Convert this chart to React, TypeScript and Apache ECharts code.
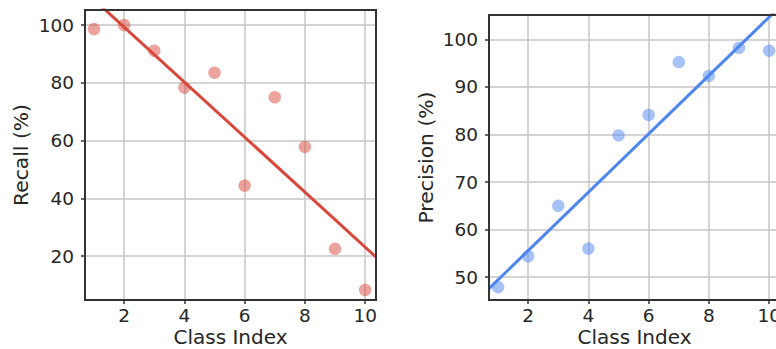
import React, { useEffect, useRef } from "react";
import * as echarts from "echarts";

const classIndex = [1, 2, 3, 4, 5, 6, 7, 8, 9, 10];
const recall = [98.6, 100, 91.1, 78.3, 83.5, 44.4, 75.0, 57.8, 22.5, 8.3];
const precision = [47.9, 54.4, 65.0, 56.0, 79.8, 84.1, 95.2, 92.3, 98.2, 97.6];
const xTicks = [2, 4, 6, 8, 10];
const recallTicks = [20, 40, 60, 80, 100];
const precisionTicks = [50, 60, 70, 80, 90, 100];

const X_MIN = 0.7;
const X_MAX = 10.36;

function fit(xs: number[], ys: number[]) {
  const n = xs.length;
  const mx = xs.reduce((a, b) => a + b, 0) / n;
  const my = ys.reduce((a, b) => a + b, 0) / n;
  let sxy = 0;
  let sxx = 0;
  for (let i = 0; i < n; i++) {
    sxy += (xs[i] - mx) * (ys[i] - my);
    sxx += (xs[i] - mx) * (xs[i] - mx);
  }
  const slope = sxy / sxx;
  const intercept = my - slope * mx;
  return (x: number) => intercept + slope * x;
}

const FONT = "DejaVu Sans";
const TEXT = "#262626";
const FRAME = "#333333";
const GRIDLINE = "#c6c6c6";
const TICK_SIZE = 18.5;
const NAME_SIZE = 20.3;

function xAxisFor(gridIndex: number) {
  return {
    type: "value",
    gridIndex,
    min: X_MIN,
    max: X_MAX,
    name: "Class Index",
    nameLocation: "middle",
    nameGap: 27,
    nameMoveOverlap: false,
    nameTextStyle: { fontFamily: FONT, fontSize: 20, color: TEXT, lineHeight: 20 },
    axisLine: { show: false },
    axisTick: {
      show: true,
      length: 4,
      customValues: xTicks,
      lineStyle: { color: FRAME, width: 1.5 },
    },
    axisLabel: {
      customValues: xTicks,
      margin: 5.5,
      fontFamily: FONT,
      fontSize: TICK_SIZE,
      color: TEXT,
    },
    splitLine: { show: true, lineStyle: { color: GRIDLINE, width: 1.5 } },
  };
}

function yAxisFor(
  gridIndex: number,
  name: string,
  min: number,
  max: number,
  ticks: number[],
  nameGap: number
) {
  return {
    type: "value",
    gridIndex,
    min,
    max,
    name,
    nameLocation: "middle",
    nameRotate: 90,
    nameGap,
    nameTextStyle: { fontFamily: FONT, fontSize: NAME_SIZE, color: TEXT },
    axisLine: { show: false },
    axisTick: {
      show: true,
      length: 4,
      customValues: ticks,
      lineStyle: { color: FRAME, width: 1.5 },
    },
    axisLabel: {
      customValues: ticks,
      margin: 11,
      fontFamily: FONT,
      fontSize: TICK_SIZE,
      color: TEXT,
    },
    splitLine: { show: true, lineStyle: { color: GRIDLINE, width: 1.5 } },
  };
}

export default function App() {
  const ref = useRef<HTMLDivElement>(null);

  useEffect(() => {
    if (!ref.current) return;
    const chart = echarts.init(ref.current, null, { renderer: "svg" });

    const recallFit = fit(classIndex, recall);
    const precisionFit = fit(classIndex, precision);

    const RED = "#d9473b";
    const BLUE = "#4d86ee";

    chart.setOption({
      animation: false,
      backgroundColor: "#ffffff",
      grid: [
        {
          left: 85,
          top: 10,
          width: 291,
          height: 290,
          show: true,
          z: 10,
          backgroundColor: "transparent",
          borderColor: FRAME,
          borderWidth: 2,
          containLabel: false,
          outerBoundsMode: "none",
        },
        {
          left: 489,
          top: 15,
          width: 291,
          height: 285,
          show: true,
          z: 10,
          backgroundColor: "transparent",
          borderColor: FRAME,
          borderWidth: 2,
          containLabel: false,
          outerBoundsMode: "none",
        },
      ],
      xAxis: [xAxisFor(0), xAxisFor(1)],
      yAxis: [
        yAxisFor(0, "Recall (%)", 4.8, 105.2, recallTicks, 54),
        yAxisFor(1, "Precision (%)", 45.2, 105.1, precisionTicks, 53),
      ],
      series: [
        {
          type: "scatter",
          xAxisIndex: 0,
          yAxisIndex: 0,
          symbolSize: 12.5,
          itemStyle: { color: RED, opacity: 0.5 },
          data: classIndex.map((x, i) => [x, recall[i]]),
        },
        {
          type: "line",
          xAxisIndex: 0,
          yAxisIndex: 0,
          showSymbol: false,
          symbol: "none",
          clip: true,
          lineStyle: { color: RED, width: 3 },
          data: [
            [X_MIN, recallFit(X_MIN)],
            [X_MAX, recallFit(X_MAX)],
          ],
        },
        {
          type: "scatter",
          xAxisIndex: 1,
          yAxisIndex: 1,
          symbolSize: 12.5,
          itemStyle: { color: BLUE, opacity: 0.5 },
          data: classIndex.map((x, i) => [x, precision[i]]),
        },
        {
          type: "line",
          xAxisIndex: 1,
          yAxisIndex: 1,
          showSymbol: false,
          symbol: "none",
          clip: true,
          lineStyle: { color: BLUE, width: 3 },
          data: [
            [X_MIN, precisionFit(X_MIN)],
            [X_MAX, precisionFit(X_MAX)],
          ],
        },
      ],
    });

    return () => {
      chart.dispose();
    };
  }, []);

  return (
    <div
      ref={ref}
      style={{ position: "absolute", left: 0, top: 0, width: 776, height: 349 }}
    />
  );
}
